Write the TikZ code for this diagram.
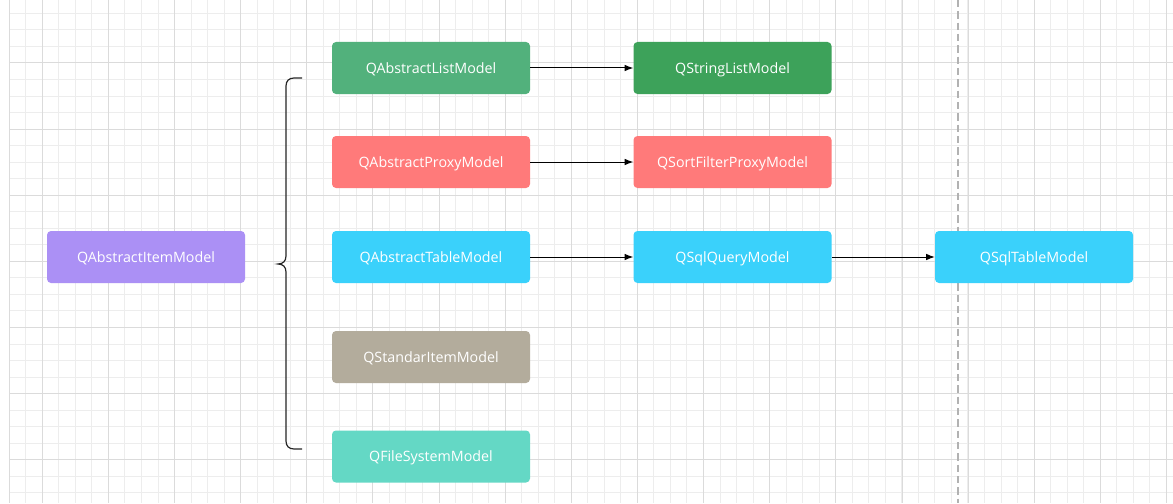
\documentclass[tikz,border=0pt]{standalone}
\usepackage{fontspec}
\setmainfont{Open Sans}
\usepackage{tikz}
\usetikzlibrary{arrows,arrows.meta,positioning}
\usetikzlibrary{calc}

\definecolor{gridminor}{HTML}{EDEDED}
\definecolor{gridmajor}{HTML}{DBDBDB}
\definecolor{itempurple}{HTML}{AB90F5}
\definecolor{listgreen}{HTML}{52B17C}
\definecolor{strgreen}{HTML}{3DA25A}
\definecolor{proxyred}{HTML}{FF7A7A}
\definecolor{tableblue}{HTML}{3AD1FB}
\definecolor{stdtaupe}{HTML}{B3AC9C}
\definecolor{fsteal}{HTML}{64D8C5}

\tikzset{
  modelbox/.style={rounded corners=3pt, minimum width=148.5pt, minimum height=39pt,
    text=white, font=\fontsize{10.7}{12}\selectfont, inner sep=0pt,
    text height=8pt, text depth=0pt},
  inherit/.style={-{Latex[length=6.5pt,width=5pt]}, line width=0.75pt, black},
  braceline/.style={line width=0.9pt, black!85},
  splitline/.style={line width=0.9pt, black!30, dash pattern=on 5.5pt off 3pt}
}

\begin{document}
\begin{tikzpicture}[x=0.75pt,y=-0.75pt]
\useasboundingbox (0,0) rectangle (1173,503);
\fill[white] (0,0) rectangle (1173,503);
% grid
\foreach \k in {0,...,70}
  \draw[gridminor, line width=0.75pt] (9.24+16.53*\k,0) -- (9.24+16.53*\k,503);
\foreach \k in {-3,...,26}
  \draw[gridminor, line width=0.75pt] (9.24,63+16.53*\k) -- (1173,63+16.53*\k);
\foreach \k in {0,...,17}
  \draw[gridmajor, line width=0.75pt] (42.3+66.13*\k,0) -- (42.3+66.13*\k,503);
\foreach \k in {0,...,6}
  \draw[gridmajor, line width=0.75pt] (9.24,63+66.13*\k) -- (1173,63+66.13*\k);
\draw[gridmajor, line width=0.75pt] (9.24,0) -- (9.24,503);
\draw[splitline] (958,0) -- (958,503);

\node[modelbox, fill=itempurple] (item) at (146,257) {QAbstractItemModel};

\node[modelbox, fill=listgreen] (alist) at (431,68) {QAbstractListModel};
\node[modelbox, fill=proxyred] (aproxy) at (431,162) {QAbstractProxyModel};
\node[modelbox, fill=tableblue] (atable) at (431,257) {QAbstractTableModel};
\node[modelbox, fill=stdtaupe] (stditem) at (431,357) {QStandarItemModel};
\node[modelbox, fill=fsteal] (fsys) at (431,456.5) {QFileSystemModel};

\node[modelbox, fill=strgreen] (strlist) at (732.5,68) {QStringListModel};
\node[modelbox, fill=proxyred] (sortproxy) at (732.5,162) {QSortFilterProxyModel};
\node[modelbox, fill=tableblue] (sqlquery) at (732.5,257) {QSqlQueryModel};
\node[modelbox, fill=tableblue] (sqltable) at (1034,257) {QSqlTableModel};

\draw[inherit] (alist) -- (strlist);
\draw[inherit] (aproxy) -- (sortproxy);
\draw[inherit] (atable) -- (sqlquery);
\draw[inherit] (sqlquery) -- (sqltable);

% brace
\coordinate (bracetop) at (302,78);
\coordinate (bracetip) at (278,264);
\coordinate (bracebot) at (302,449);
\draw[braceline] (bracetop) -- (294,78) .. controls (289,78) and (286,81) .. (286,86)
  -- (286,256) .. controls (286,261) and (283,264) .. (bracetip)
  .. controls (283,264) and (286,267) .. (286,272)
  -- (286,441) .. controls (286,446) and (289,449) .. (294,449) -- (bracebot);
\end{tikzpicture}
\end{document}
